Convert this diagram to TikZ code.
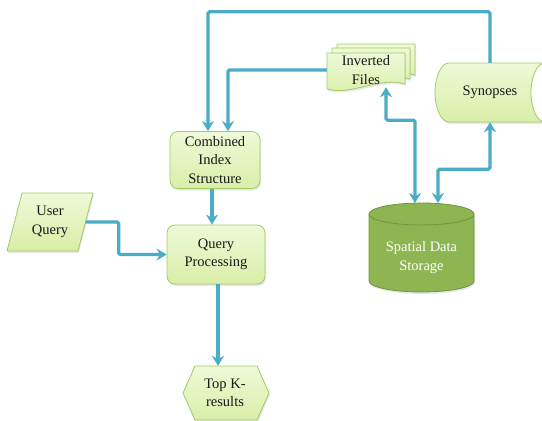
\documentclass[tikz,border=0pt]{standalone}
\usepackage{fontspec}
\setmainfont{Liberation Serif}
\usetikzlibrary{arrows.meta,shadows,calc}

\definecolor{flowline}{HTML}{4BACC6}
\definecolor{boxtop}{HTML}{EFF9D8}
\definecolor{boxbot}{HTML}{D8EFA8}
\definecolor{boxedge}{HTML}{A2CB66}
\definecolor{dbfill}{HTML}{8DB652}
\definecolor{dbedge}{HTML}{6E953E}

\begin{document}
\begin{tikzpicture}[x=1pt,y=-1pt,
  lbl/.style={font=\fontsize{14.5}{18.5}\selectfont, align=center, text=black!90, inner sep=0pt},
  greenfill/.style={draw=boxedge, line width=0.8pt, top color=boxtop, bottom color=boxbot,
    drop shadow={opacity=0.18, shadow xshift=1pt, shadow yshift=-2pt}},
  procbox/.style={greenfill, lbl, rounded corners=8pt},
  flow/.style={draw=flowline, line width=3.2pt, rounded corners=1.5pt,
    -{Stealth[length=10pt,width=12pt]}},
  flowboth/.style={flow, {Stealth[length=10pt,width=12pt]}-{Stealth[length=10pt,width=12pt]}},
]
\useasboundingbox (0,0) rectangle (542,421);
\clip (0,0) rectangle (542,421);

% process boxes
\node[procbox, minimum width=90pt, minimum height=57pt] (comb) at (215,160)
  {Combined\\Index\\Structure};
\node[procbox, minimum width=98pt, minimum height=59pt] (qp) at (216,254.5)
  {Query\\Processing};

% user query (parallelogram)
\path[greenfill] (22,193) -- (93,193) -- (78,251) -- (7,251) -- cycle;
\node[lbl, minimum width=71pt, minimum height=58pt] (uq) at (50,222) {User\\Query};

% top-k results (hexagon)
\path[greenfill] (195,366) -- (257,366) -- (269,393) -- (257,420) -- (195,420) -- (183,393) -- cycle;
\node[lbl, minimum height=54pt] (topk) at (225,393) {Top K-\\results};

% inverted files (stacked documents)
\foreach \dx/\dy in {10/-9, 5/-5, 0/0}{
  \path[greenfill, shift={(\dx,\dy)}]
    (327,53) -- (405,53) -- (405,84)
    .. controls (380,76) and (352,96) .. (327,89) -- cycle;
}
\node[lbl, minimum width=78pt, minimum height=34pt] (inv) at (366,70) {Inverted\\Files};

% synopses (direct access storage)
\path[greenfill] (449,63) -- (565,63) -- (565,122) -- (449,122)
  .. controls (441.27,122) and (435,108.79) .. (435,92.5)
  .. controls (435,76.21) and (441.27,63) .. (449,63) -- cycle;
\path[draw=boxedge, line width=0.8pt, fill=white] (545,92.5) ellipse [x radius=14, y radius=29.5];
\node[lbl, minimum height=59pt] (syn) at (490,92.5) {Synopses};

% spatial data storage (cylinder)
\path[draw=dbedge, line width=0.8pt, fill=dbfill,
      drop shadow={opacity=0.18, shadow xshift=1pt, shadow yshift=-2pt}]
  (369,214) -- (369,281)
  .. controls (369,287.08) and (392.5,292) .. (421.5,292)
  .. controls (450.5,292) and (474,287.08) .. (474,281)
  -- (474,214) -- cycle;
\path[draw=dbedge, line width=0.8pt, fill=dbfill] (421.5,214) ellipse [x radius=52.5, y radius=11];
\node[lbl, text=white] (sds) at (421.5,257.5) {Spatial Data\\Storage};
\coordinate (dbl) at (415,203);
\coordinate (dbr) at (438,203);

% connectors
\draw[flow] (syn.north) -- ++(0,-51) -| ([xshift=-7pt]comb.north);
\draw[flow] (inv.west) -| ([xshift=13pt]comb.north);
\draw[flow] ([xshift=-3pt]comb.south) -- ([xshift=-3pt]comb.south |- qp.north);
\draw[flow] (uq.east) -- ++(33,0) |- (qp.west);
\draw[flow] ([xshift=2pt]qp.south) -- ([xshift=2pt]qp.south |- topk.north);
\draw[flowboth] ([xshift=20pt]inv.south) -- ++(0,33) -| (dbl);
\draw[flowboth] (syn.south) -- ++(0,47) -| (dbr);
\end{tikzpicture}
\end{document}
